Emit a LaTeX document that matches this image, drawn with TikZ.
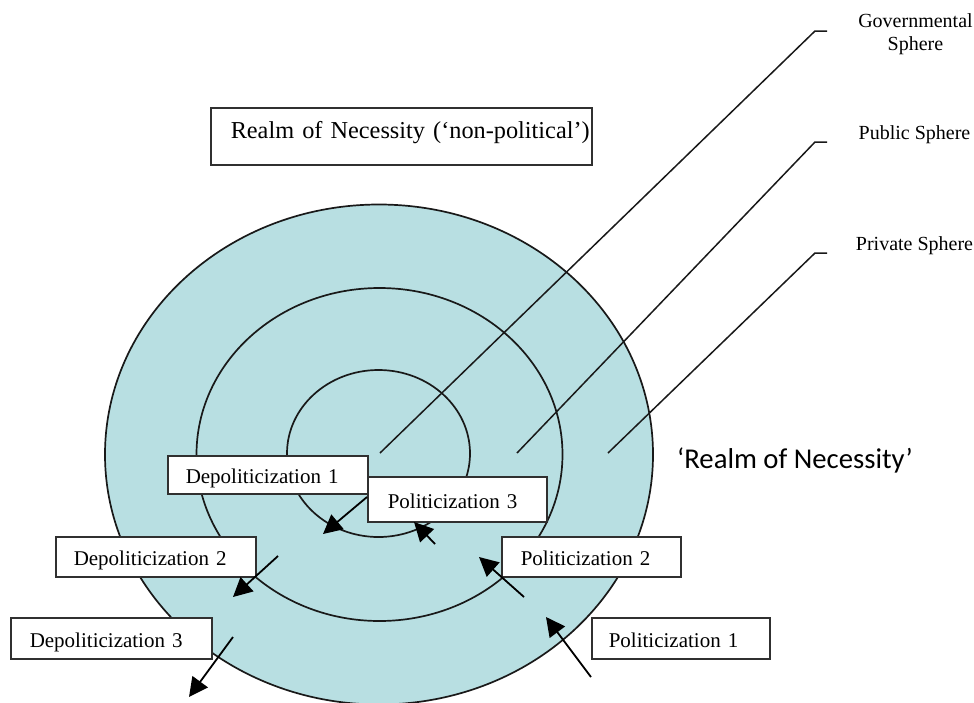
\documentclass[tikz,border=0pt]{standalone}
\usepackage{fontspec}
\setmainfont{Liberation Serif}
\newfontfamily\calibrifont{Carlito}
\usetikzlibrary{arrows.meta,shapes.geometric}
\definecolor{sphfill}{RGB}{184,223,226}
\definecolor{edgec}{RGB}{25,25,25}
\begin{document}
\begin{tikzpicture}[x=1pt,y=-1pt,
  sphere/.style={ellipse, draw=edgec, line width=1.7pt, inner sep=0pt},
  boxnode/.style={draw=edgec!90, line width=1.5pt, fill=white, anchor=north west,
    inner xsep=0pt, inner ysep=0pt, align=left, text height=19pt, text depth=1pt,
    font=\fontsize{21}{24}\selectfont},
  leader/.style={draw=edgec, line width=1.5pt},
  arr/.style={draw=black, line width=1.8pt, -{Triangle[length=19pt,width=19pt]}},
  lab/.style={font=\fontsize{20}{23}\selectfont, inner sep=0pt}
]
\useasboundingbox (0,0) rectangle (974,702);
% spheres
\node[sphere, fill=sphfill, minimum width=548pt, minimum height=500pt] (outer) at (379,454.5) {};
\node[sphere, minimum width=366pt, minimum height=333pt] (middle) at (379.5,454.5) {};
\node[sphere, minimum width=183pt, minimum height=167pt] (inner) at (378.5,453.5) {};
% leader lines
\coordinate (gA) at (380,453); \coordinate (gB) at (815,31); \coordinate (gC) at (827,31);
\coordinate (pA) at (517,453); \coordinate (pB) at (815,142); \coordinate (pC) at (827,142);
\coordinate (vA) at (608,453); \coordinate (vB) at (815,253); \coordinate (vC) at (827,253);
\draw[leader] (gA) -- (gB) -- (gC);
\draw[leader] (pA) -- (pB) -- (pC);
\draw[leader] (vA) -- (vB) -- (vC);
% labels
\node[lab, align=center] (govlab) at (915.5,33.8) {Governmental\\Sphere};
\node[lab, anchor=base] (publab) at (914.5,139) {Public Sphere};
\node[lab, anchor=base] (privlab) at (914.5,250) {Private Sphere};
\node[font=\calibrifont\fontsize{28.7}{32}\selectfont, anchor=base west, inner sep=0pt] (rontext) at (677,468) {‘Realm of Necessity’};
% boxes
\node[boxnode, text width=381pt, minimum height=57pt, text height=16pt, text depth=11pt,
  font=\fontsize{24.3}{28}\selectfont] (realm) at (210,107) {\noindent\hspace*{20pt}Realm of Necessity (‘non-political’)};
\node[boxnode, text width=200pt, minimum height=38pt] (dep1) at (167,455) {\noindent\hspace*{18pt}Depoliticization 1};
\node[boxnode, text width=179pt, minimum height=45pt] (pol3) at (367,476) {\noindent\hspace*{20pt}Politicization 3};
\node[boxnode, text width=200pt, minimum height=40pt] (dep2) at (55,536) {\noindent\hspace*{18pt}Depoliticization 2};
\node[boxnode, text width=201pt, minimum height=41pt] (dep3) at (10,617) {\noindent\hspace*{19pt}Depoliticization 3};
\node[boxnode, text width=179pt, minimum height=40pt] (pol2) at (501,536) {\noindent\hspace*{19pt}Politicization 2};
\node[boxnode, text width=178pt, minimum height=41pt] (pol1) at (591,617) {\noindent\hspace*{17pt}Politicization 1};
% arrows
\coordinate (d1s) at (367,497); \coordinate (d1e) at (323,534);
\coordinate (p3s) at (435,544); \coordinate (p3e) at (414,522);
\coordinate (d2s) at (278,556); \coordinate (d2e) at (233,597);
\coordinate (d3s) at (233,637); \coordinate (d3e) at (189,697);
\coordinate (p2s) at (524,597); \coordinate (p2e) at (479,557);
\coordinate (p1s) at (591,677); \coordinate (p1e) at (546,617);
\draw[arr] (d1s) -- (d1e);
\draw[arr] (p3s) -- (p3e);
\draw[arr] (d2s) -- (d2e);
\draw[arr] (d3s) -- (d3e);
\draw[arr] (p2s) -- (p2e);
\draw[arr] (p1s) -- (p1e);
\end{tikzpicture}
\end{document}
